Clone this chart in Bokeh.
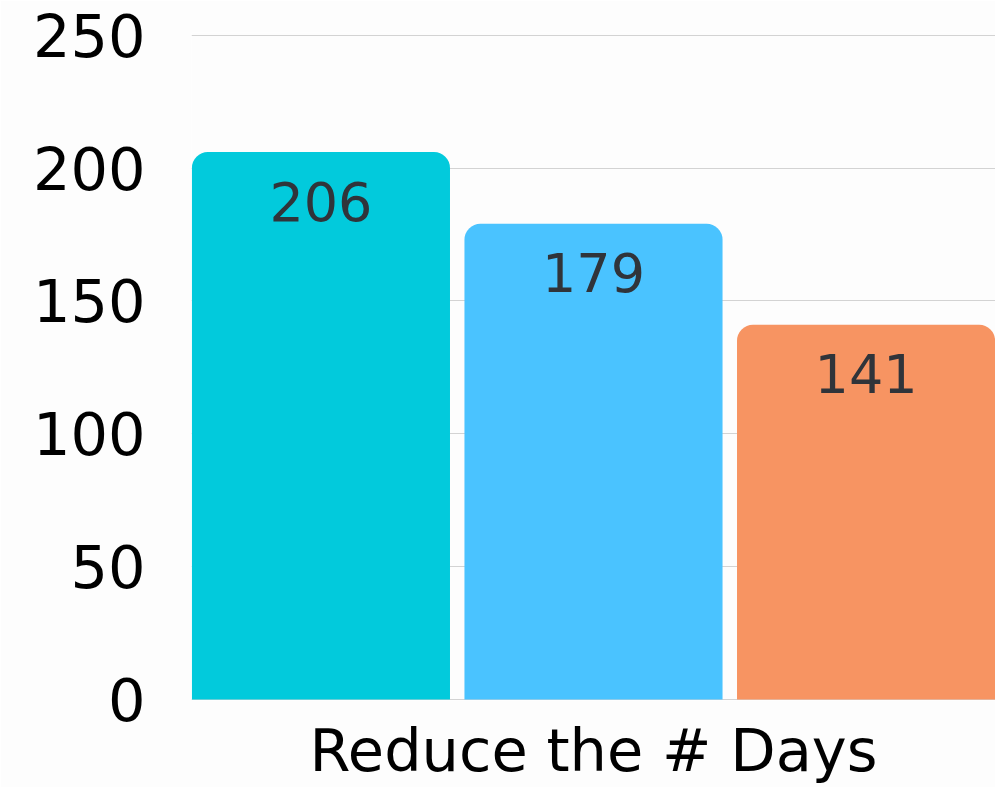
from bokeh.plotting import figure
from bokeh.models import ColumnDataSource, FactorRange, Range1d, FixedTicker
from bokeh.transform import dodge
from bokeh.core.properties import value
from bokeh.embed import file_html
from bokeh.resources import INLINE

category = ["Reduce the # Days"]
series = ["Series A", "Series B", "Series C"]
values = [206, 179, 141]
colors = ["#02cadc", "#4ac3ff", "#f79462"]
offsets = [-0.339, 0.0, 0.339]
y_ticks = [0, 50, 100, 150, 200, 250]

FONT = "DejaVu Sans"

p = figure(x_range=FactorRange(*category), y_range=Range1d(-0.4, 251),
           width=995, height=787, frame_width=804, frame_height=668,
           output_backend="svg", toolbar_location=None,
           min_border_left=191, min_border_right=0, min_border_top=32, min_border_bottom=87)
p.x_range.range_padding = 0
p.background_fill_color = "#fdfdfd"
p.border_fill_color = "#fdfdfd"
p.outline_line_color = None

for s, v, c, o in zip(series, values, colors, offsets):
    src = ColumnDataSource(dict(cat=category, val=[v], lab=[str(v)]))
    p.vbar(x=dodge("cat", o, range=p.x_range), top="val", bottom=0, width=0.321, source=src,
           fill_color=c, line_color=None, border_radius=(16, 16, 0, 0))
    p.text(x=dodge("cat", o, range=p.x_range), y="val", text="lab", source=src,
           text_align="center", text_baseline="middle", y_offset=49,
           text_font=value(FONT), text_font_size="54px", text_color="#30343a")

p.yaxis.ticker = FixedTicker(ticks=y_ticks)
p.yaxis.axis_line_color = None
p.yaxis.major_tick_line_color = None
p.yaxis.minor_tick_line_color = None
p.yaxis.major_label_text_font = FONT
p.yaxis.major_label_text_font_size = "59px"
p.yaxis.major_label_text_color = "#000000"
p.yaxis.major_label_standoff = 40

p.xaxis.axis_line_color = None
p.xaxis.major_tick_line_color = None
p.xaxis.major_label_text_font = FONT
p.xaxis.major_label_text_font_size = "59px"
p.xaxis.major_label_text_color = "#000000"
p.xaxis.major_label_standoff = 9

p.xgrid.grid_line_color = None
p.ygrid.grid_line_color = "#d3d3d3"
p.ygrid.grid_line_width = 1

open("out.html", "w").write(file_html(p, INLINE))
